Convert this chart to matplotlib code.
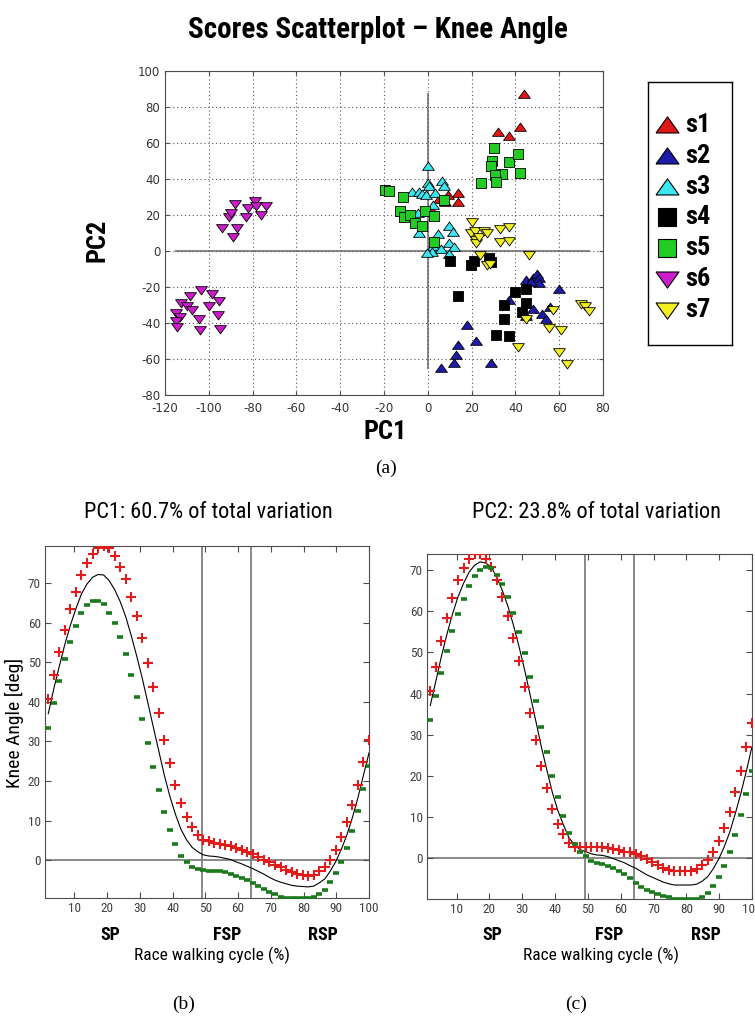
import numpy as np
import matplotlib
matplotlib.use('Agg')
import matplotlib.pyplot as plt
import matplotlib.font_manager as fm
from matplotlib import transforms

plt.rcParams['axes.unicode_minus'] = False

# narrow face for titles and labels, falling back to a regular face set smaller
installed = {f.name for f in fm.fontManager.ttflist}
NARROW, SHRINK = 'Liberation Sans', 0.84
for cand in ['Liberation Sans Narrow', 'Arial Narrow', 'Roboto Condensed', 'Open Sans Condensed']:
    if cand in installed:
        NARROW, SHRINK = cand, 1.0
        break


def fs(pt):
    return pt * SHRINK


# ---- PCA scores per subject (PC1, PC2) ----
subjects = ['s1', 's2', 's3', 's4', 's5', 's6', 's7']

s1_x = [44, 42, 32, 37, 14, 14, 9, 8, 5, 2]
s1_y = [87, 69, 66, 64, 32, 27, 31, 27, 29, 22]

s2_x = [45, 48, 50, 51, 51, 47, 60, 37, 48, 52, 54, 56, 45, 18, 22, 14, 13, 12, 6, 29]
s2_y = [-16, -15, -13, -15, -18, -17, -21, -27, -32, -35, -38, -31, -36, -41, -50, -52, -58, -62, -65, -62]

s3_x = [0, 0, 0.5, -7, -4, -2.5, -1, 6.5, 7.5, 3.5, 2.5, -4.5, -4, 9.5, 11.5, 4.5, 2.5, 2, 6, 9.5, 12, 9.5, -0.5]
s3_y = [47, 38, 36, 33, 33, 31.5, 31, 39, 36, 32.5, 25.5, 21, 10, 14, 10.5, 9.5, 3, -0.5, 1, 4.5, 2.5, -1.5, -1]

s4_x = [10, 21, 19.5, 28, 29, 14, 40, 45, 35, 45, 43, 35, 31, 37]
s4_y = [-5.5, -5.5, -8, -4, -6, -25, -23, -21, -30, -29, -34, -37.5, -46.5, -47]

s5_x = [-19.5, -17.5, -11.5, -12.5, -11, -8, -6, -2.5, -1.5, 3, 7.5, 3, 30, 29.5, 29, 37, 41, 42, 34, 30.5, 31, 24.5]
s5_y = [34, 33.5, 30, 22.5, 19, 20, 15.5, 14, 22, 19.5, 28.5, 5, 57.5, 50, 47, 49.5, 54, 43.5, 43, 42, 38.5, 38]

s6_x = [-94, -91, -90, -88, -87, -89, -83, -82, -79, -78.5, -76, -74,
        -103.5, -108.5, -98.5, -95.5, -100, -112.5, -110, -107.5, -115, -113, -96, -104.5, -115, -114.5, -104, -95]
s6_y = [13, 19, 21, 26, 13, 8, 19, 24, 28, 25, 20, 25,
        -21.5, -25, -24, -27.5, -30.5, -29, -30.5, -32.5, -34.5, -36.5, -35.5, -38, -39, -42, -44, -43.5]

s7_x = [20, 19.5, 21.5, 22, 22, 23.5, 25.5, 27, 33, 37, 33, 37, 46, 24, 27, 28.5, 70, 72, 73.5, 57, 45, 55.5, 61, 41, 60, 63.5]
s7_y = [16, 10, 11, 6, 4.5, 8, 11, 10, 12.5, 13.5, 5, 5.5, -2, -2, -8, -7, -29.5, -30.5, -33.5, -33, -38, -43, -44, -53.5, -56, -62.5]

scores_x = [s1_x, s2_x, s3_x, s4_x, s5_x, s6_x, s7_x]
scores_y = [s1_y, s2_y, s3_y, s4_y, s5_y, s6_y, s7_y]

# ---- knee angle curves: mean and mean +/- PC ----
cycle = np.linspace(2, 100, 59)

mean_angle = [37.0, 43.3, 49.0, 54.5, 59.3, 63.5, 67.2, 69.7, 71.4, 72.1, 72.0, 70.6, 68.3, 65.3, 61.5,
              56.7, 51.5, 45.9, 39.8, 33.6, 27.5, 21.4, 16.1, 11.6, 7.8, 5.2, 3.3, 2.2, 1.4, 1.1,
              1.0, 0.8, 0.5, 0.2, -0.4, -0.9, -1.5, -2.1, -2.8, -3.5, -4.3, -5.0, -5.5, -5.9, -6.3,
              -6.5, -6.6, -6.7, -6.5, -5.7, -4.7, -2.7, -0.3, 2.8, 6.4, 10.8, 15.8, 21.5, 27.1]

pc1_plus = [40.6, 46.8, 52.6, 58.1, 63.4, 67.8, 72.0, 74.9, 77.4, 78.8, 79.3, 78.7, 76.7, 74.1, 70.9,
            66.5, 61.6, 56.2, 49.9, 43.7, 37.1, 30.4, 24.5, 19.1, 14.4, 10.9, 8.3, 6.5, 5.2, 4.8,
            4.5, 4.2, 3.9, 3.7, 3.1, 2.7, 2.0, 1.6, 0.8, 0.2, -0.5, -1.3, -1.8, -2.4, -3.0,
            -3.4, -3.6, -3.9, -3.6, -2.8, -1.7, 0.2, 2.7, 6.0, 9.6, 14.0, 19.1, 24.9, 30.4]
pc1_minus = [33.5, 39.8, 45.3, 50.8, 55.2, 59.2, 62.3, 64.4, 65.4, 65.4, 64.6, 62.5, 59.8, 56.4, 52.1,
             46.8, 41.3, 35.6, 29.7, 23.5, 17.8, 12.3, 7.7, 4.1, 1.2, -0.5, -1.7, -2.2, -2.5, -2.6,
             -2.6, -2.6, -2.9, -3.4, -3.9, -4.5, -5.0, -5.7, -6.4, -7.2, -8.1, -8.6, -9.2, -9.4, -9.5,
             -9.5, -9.5, -9.4, -9.3, -8.6, -7.6, -5.5, -3.2, -0.4, 3.2, 7.5, 12.5, 18.0, 23.8]

mean_angle2 = [37.1, 43.0, 49.0, 54.4, 59.3, 63.5, 66.8, 69.5, 71.2, 72.0, 71.7, 70.7, 68.2, 65.0, 61.2,
               56.6, 51.4, 45.8, 39.7, 33.5, 27.2, 21.5, 16.0, 11.6, 8.1, 5.0, 3.2, 2.1, 1.6, 1.1,
               0.8, 0.7, 0.4, -0.1, -0.6, -1.1, -1.8, -2.4, -3.2, -4.0, -4.6, -5.2, -5.8, -6.2, -6.5,
               -6.5, -6.5, -6.5, -6.3, -5.6, -4.5, -2.6, -0.2, 2.8, 6.4, 10.9, 15.8, 21.3, 27.1]
pc2_plus = [40.6, 46.5, 52.8, 58.4, 63.3, 67.6, 70.6, 72.8, 73.9, 73.9, 72.6, 70.8, 67.6, 63.5, 58.9,
            53.6, 47.8, 41.7, 35.2, 28.7, 22.4, 17.0, 12.0, 8.3, 5.8, 3.8, 2.8, 2.7, 2.7, 2.7,
            2.7, 2.7, 2.6, 2.2, 1.9, 1.6, 1.4, 1.1, 0.6, -0.2, -0.8, -1.6, -2.4, -2.8, -3.1,
            -3.1, -3.1, -3.1, -2.7, -1.6, -0.4, 1.5, 4.2, 7.3, 11.2, 16.0, 21.2, 27.1, 32.9]
pc2_minus = [33.6, 39.5, 45.1, 50.3, 55.2, 59.3, 63.0, 66.2, 68.5, 70.1, 70.8, 70.6, 68.8, 66.5, 63.4,
             59.5, 54.9, 49.8, 44.1, 38.3, 32.0, 25.9, 20.0, 14.8, 10.3, 6.2, 3.5, 1.4, 0.5, -0.6,
             -1.1, -1.4, -1.8, -2.4, -3.0, -3.8, -4.9, -5.9, -6.9, -7.7, -8.3, -8.7, -9.1, -9.5, -9.8,
             -9.9, -9.9, -9.9, -9.8, -9.5, -8.5, -6.7, -4.5, -1.8, 1.5, 5.7, 10.4, 15.5, 21.2]

phase_edges = [49, 64]
phase_names = ['SP', 'FSP', 'RSP']
phase_pos = [21, 56.5, 86]

colors = ['#e01818', '#1c1ca8', '#3ce6f0', '#000000', '#22cc22', '#cc1ccc', '#f2f020']
tri_up = [(-1, -0.65), (1, -0.65), (0, 0.75), (-1, -0.65)]
tri_dn = [(-1, 0.65), (1, 0.65), (0, -0.75), (-1, 0.65)]
square = [(-1, -1), (1, -1), (1, 1), (-1, 1), (-1, -1)]
markers = [tri_up, tri_up, tri_up, square, square, tri_dn, tri_dn]
msizes = [8.5, 8.5, 8.5, 7, 7, 8.5, 8.5]

W, H = 755, 1018
fig = plt.figure(figsize=(W / 100, H / 100), dpi=100)


def box(l, t, r, b):
    return [l / W, 1 - b / H, (r - l) / W, (b - t) / H]


# ---- scores scatterplot ----
ax = fig.add_axes(box(165, 71, 603, 395))
all_x = np.concatenate(scores_x)
all_y = np.concatenate(scores_y)
ax.plot([all_x.min(), all_x.max()], [0, 0], color='0.55', lw=1.5, zorder=1)
ax.plot([0, 0], [all_y.min(), all_y.max()], color='0.55', lw=1.5, zorder=1)
for xs, ys, c, m, ms in zip(scores_x, scores_y, colors, markers, msizes):
    ax.plot(xs, ys, ls='none', marker=m, ms=ms, mfc=c, mec='black', mew=0.6, zorder=3)
ax.set_xlim(-120, 80)
ax.set_ylim(-80, 100)
ax.set_xticks(np.arange(-120, 81, 20))
ax.set_yticks(np.arange(-80, 101, 20))
ax.grid(True, ls=(0, (1, 2.5)), color='0.35', lw=0.8)
ax.tick_params(direction='in', top=True, right=True, length=3, labelsize=8.5, labelcolor='0.2', color='0.3')
ax.tick_params(axis='x', pad=5)
for s in ax.spines.values():
    s.set_color('0.3')

fig.text(378 / W, 1 - 30 / H, 'Scores Scatterplot \u2013 Knee Angle', ha='center', va='center',
         fontsize=fs(21), fontweight='bold', family=NARROW)
fig.text(97 / W, 1 - 240 / H, 'PC2', ha='center', va='center', rotation=90,
         fontsize=fs(19), fontweight='bold', family=NARROW)
fig.text(385 / W, 1 - 432 / H, 'PC1', ha='center', va='center',
         fontsize=fs(19), fontweight='bold', family=NARROW)
fig.text(386 / W, 1 - 468 / H, '(a)', ha='center', va='center', fontsize=14, family='Liberation Serif')

# legend box
lg = fig.add_axes(box(648, 82, 732, 345))
lg.set_xlim(0, 84)
lg.set_ylim(263, 0)
lg.set_xticks([])
lg.set_yticks([])
for s in lg.spines.values():
    s.set_linewidth(1.0)
for i, (name, c, m, ms) in enumerate(zip(subjects, colors, markers, msizes)):
    yy = 43 + 30.8 * i
    lg.plot([19], [yy], ls='none', marker=m, ms=ms * 1.95, mfc=c, mec='black', mew=0.8)
    lg.text(37, yy, name, va='center', ha='left', fontsize=fs(19), fontweight='bold', family=NARROW)

# ---- loadings plots ----
panels = [
    (box(45, 546, 369, 898), mean_angle, pc1_plus, pc1_minus, 'PC1: 60.7% of total variation', 208, 184, '(b)'),
    (box(427, 554, 752, 899), mean_angle2, pc2_plus, pc2_minus, 'PC2: 23.8% of total variation', 597, 576, '(c)'),
]
for rect, mean, plus, minus, title, tx, lx, letter in panels:
    a = fig.add_axes(rect)
    a.plot([1, 100], [0, 0], color='0.5', lw=1.3, zorder=1)
    for e in phase_edges:
        a.axvline(e, color='0.5', lw=1.3, zorder=1)
    a.plot(cycle, mean, color='black', lw=0.8, zorder=2)
    a.plot(cycle, plus, ls='none', marker='+', ms=6.5, mew=1.5, color='#e01c1c', zorder=3)
    a.plot(cycle, minus, ls='none', marker='_', ms=4.5, mew=2.6, color='#1b7a1b', zorder=3)
    a.set_xlim(1, 100)
    a.set_ylim(min(minus), max(plus))
    a.set_xticks(np.arange(10, 101, 10))
    a.set_yticks(np.arange(0, 71, 10))
    a.tick_params(direction='in', top=True, right=True, length=4, labelsize=fs(9.5),
                  labelcolor='0.25', color='0.3', pad=3)
    for lab in a.get_xticklabels() + a.get_yticklabels():
        lab.set_family(NARROW)
    for s in a.spines.values():
        s.set_color('0.3')
    tr = transforms.blended_transform_factory(a.transData, fig.transFigure)
    for name, pos in zip(phase_names, phase_pos):
        a.text(pos, 1 - 935 / H, name, transform=tr, ha='center', va='center',
               fontsize=fs(13), fontweight='bold', family=NARROW)
    fig.text(tx / W, 1 - 513 / H, title, ha='center', va='center', fontsize=fs(16), family=NARROW)
    fig.text((tx + 4) / W, 1 - 955 / H, 'Race walking cycle (%)', ha='center', va='center',
             fontsize=fs(12.5), family=NARROW)
    fig.text(lx / W, 1 - 1004 / H, letter, ha='center', va='center', fontsize=14, family='Liberation Serif')

fig.text(14 / W, 1 - 723 / H, 'Knee Angle [deg]', ha='center', va='center', rotation=90,
         fontsize=fs(14), family=NARROW)

fig.savefig('out.png', dpi=100)
